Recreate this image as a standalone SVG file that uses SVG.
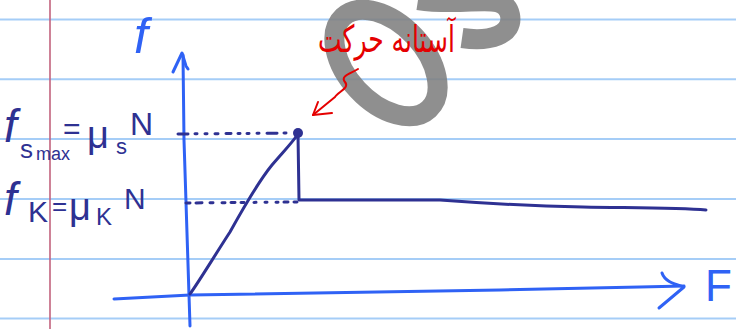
<svg xmlns="http://www.w3.org/2000/svg" width="736" height="329" viewBox="0 0 736 329">
<style>
.rule{stroke:#a5cdf7;stroke-width:2;}
.blue{stroke:#2f62f5;fill:none;stroke-width:3;stroke-linecap:round;stroke-linejoin:round;}
.navy{stroke:#2e3192;fill:none;stroke-width:3;stroke-linecap:round;stroke-linejoin:round;}
.red{stroke:#e50000;fill:none;stroke-width:2;stroke-linecap:round;stroke-linejoin:round;}
.nt{fill:#2e3192;font-family:"Liberation Sans",sans-serif;}
.bt{fill:#2f62f5;font-family:"Liberation Sans",sans-serif;}
.wm{stroke:#808080;fill:none;stroke-width:20;opacity:0.88;}
</style>
<rect width="736" height="329" fill="#ffffff"/>
<g id="paper">
<line class="rule" x1="0" y1="19.5" x2="736" y2="19.5"/>
<line class="rule" x1="0" y1="79.3" x2="736" y2="79.3"/>
<line class="rule" x1="0" y1="139" x2="736" y2="139"/>
<line class="rule" x1="0" y1="199" x2="736" y2="199"/>
<line class="rule" x1="0" y1="259" x2="736" y2="259"/>
<line class="rule" x1="0" y1="318.5" x2="736" y2="318.5"/>
<line x1="50" y1="0" x2="50" y2="329" stroke="#c2627d" stroke-width="1.6"/>
</g>
<g id="watermark">
<ellipse class="wm" cx="386" cy="63" rx="63" ry="39" transform="rotate(47 386 63)"/>
<path class="wm" d="M418,0 C470,8 505,-10 510,15 C514,35 490,42 462,38"/>
</g>
<g id="connectors">
<path class="blue" d="M190,326 L189,295 L184,140 L183,55"/>
<path class="blue" d="M173,72 L182,53 L186,66 L188,69"/>
<path class="blue" d="M114,299 L190,295 L500,290 L640,287 L684,286"/>
<path class="blue" d="M662,273 C665,282 675,284 684,287 L659,308"/>
<path class="navy" d="M190,294 C200,280 215,255 230,232 C245,205 258,182 272,165 C283,152 292,143 298,134 L299,200 L440,200 C480,203 530,206 583,207 C640,208 680,208 706,210"/>
<circle cx="298" cy="133" r="5" fill="#2e3192"/>
<path class="navy" d="M178,134 L292,133" stroke-dasharray="10,7 2,8 2,8 3,8 5,7 2,7 2,8 2,8"/>
<path class="navy" d="M186,203 L297,202" stroke-dasharray="4,6 6,8 3,9 3,6 4,6 3,10 2,9 2,9 2,6" stroke-width="2.5"/>
<path class="red" d="M358,69 C350,74 340,76 345,82 C350,88 338,92 335,97 L313,115"/>
<path class="red" d="M318,102 L313,115 L332,113"/>
</g>
<g id="label-f">
<text class="bt" x="134" y="53" font-size="50" font-style="italic">f</text>
</g>
<g id="label-F">
<text class="bt" x="705" y="301" font-size="44">F</text>
</g>
<g id="label-fs">
<text class="nt" x="4" y="142" font-size="46" font-style="italic">f</text>
<text class="nt" x="20" y="158" font-size="26">s</text>
<text class="nt" x="36" y="160" font-size="18">max</text>
<text class="nt" x="63" y="139" font-size="30">=</text>
<text class="nt" x="87" y="148" font-size="38">μ</text>
<text class="nt" x="116" y="154" font-size="22">s</text>
<text class="nt" x="130" y="135" font-size="32">N</text>
</g>
<g id="label-fk">
<text class="nt" x="4" y="215" font-size="46" font-style="italic">f</text>
<text class="nt" x="28" y="222" font-size="30">K</text>
<text class="nt" x="52" y="215" font-size="26">=</text>
<text class="nt" x="69" y="220" font-size="38">μ</text>
<text class="nt" x="96" y="225" font-size="24">K</text>
<text class="nt" x="124" y="209" font-size="30">N</text>
</g>
<g id="label-threshold">
<text x="0" y="0" font-size="25" fill="#e50000" text-anchor="end" font-family="'DejaVu Sans','Noto Sans',sans-serif" transform="translate(455,52) scale(1,1.5)">آستانه حرکت</text>
</g>
</svg>
